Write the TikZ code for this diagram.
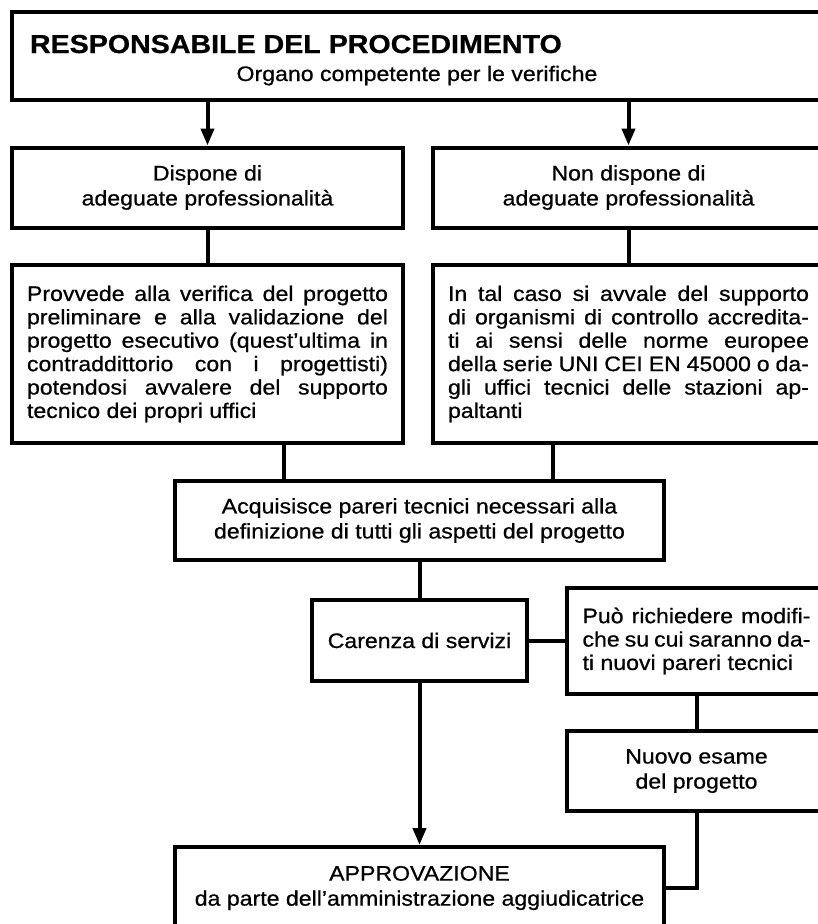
\documentclass[tikz,border=0pt]{standalone}
\usepackage{fontspec}
\setmainfont{Liberation Sans}[FakeStretch=1.1, FakeBold=0.7]
\usetikzlibrary{arrows.meta}

\begin{document}
\begin{tikzpicture}[x=1pt, y=-1pt, line width=4pt,
        font=\fontsize{21}{25}\selectfont,
        box/.style={draw, rectangle, align=center, inner xsep=15pt, inner ysep=0pt},
        textbox/.style={box, text width=361pt, align=justify, font=\fontsize{21}{23.4}\selectfont},
        plain/.style={inner sep=0pt},
        arrowline/.style={-{Triangle[width=13pt,length=17pt]}}]
        \useasboundingbox (0,0) rectangle (818,924);
        \clip (0,0) rectangle (818,924);

        % Responsabile
        \node[draw, minimum width=818pt, minimum height=88pt, inner sep=0pt] (responsabile) at (421,56) {};
        \node[plain, anchor=base west, font=\fontsize{26}{30}\selectfont\bfseries] (titolo) at (28,53) {RESPONSABILE DEL PROCEDIMENTO};
        \node[plain, anchor=base] (organo) at (417,81) {Organo competente per le verifiche};

        % Professionalita
        \node[box, minimum width=391pt, minimum height=80pt] (dispone) at (207.5,187.5) {Dispone di\\adeguate professionalità};
        \node[box, minimum width=391pt, minimum height=80pt] (nondispone) at (628.5,187.5) {Non dispone di\\adeguate professionalità};

        % Verifica
        \node[textbox, minimum height=178pt] (provvede) at (207.5,354) {Provvede alla verifica del progetto\linebreak preliminare e alla validazione del\linebreak progetto esecutivo (quest’ultima in\linebreak contraddittorio con i progettisti)\linebreak potendosi avvalere del supporto\linebreak tecnico dei propri uffici};
        \node[textbox, minimum height=178pt] (avvale) at (628.5,354) {In tal caso si avvale del supporto\linebreak di organismi di controllo accredita-\linebreak ti ai sensi delle norme europee\linebreak della serie UNI CEI EN 45000 o da-\linebreak gli uffici tecnici delle stazioni ap-\linebreak paltanti};

        % Pareri
        \node[box, minimum width=489pt, minimum height=79pt] (acquisisce) at (419.5,520.5) {Acquisisce pareri tecnici necessari alla\\definizione di tutti gli aspetti del progetto};
        \node[box, minimum width=215pt, minimum height=81pt] (carenza) at (419.5,640.5) {Carenza di servizi};
        \node[textbox, text width=228pt, inner xsep=16pt, minimum height=106pt] (modifiche) at (696.5,641) {Può richiedere modifi-\linebreak che su cui saranno da-\linebreak ti nuovi pareri tecnici};
        \node[box, minimum width=260pt, minimum height=80pt] (esame) at (696.5,771) {Nuovo esame\\del progetto};

        % Approvazione
        \node[box, minimum width=489pt, minimum height=82pt] (approvazione) at (419.5,888) {APPROVAZIONE\\da parte dell’amministrazione aggiudicatrice};

        % Connectors
        \coordinate (sx) at (284,0);
        \coordinate (dx) at (553,0);
        \draw[arrowline] (dispone.north |- responsabile.south) -- (dispone.north);
        \draw[arrowline] (nondispone.north |- responsabile.south) -- (nondispone.north);
        \draw (dispone.south) -- (provvede.north);
        \draw (nondispone.south) -- (avvale.north);
        \draw (provvede.south -| sx) -- (acquisisce.north -| sx);
        \draw (avvale.south -| dx) -- (acquisisce.north -| dx);
        \draw (acquisisce.south) -- (carenza.north);
        \draw (carenza.east) -- (carenza.east -| modifiche.west);
        \draw (modifiche.south) -- (esame.north);
        \draw[arrowline] (carenza.south) -- (approvazione.north);
        \draw (esame.south) |- (approvazione.east);
    \end{tikzpicture}
\end{document}
